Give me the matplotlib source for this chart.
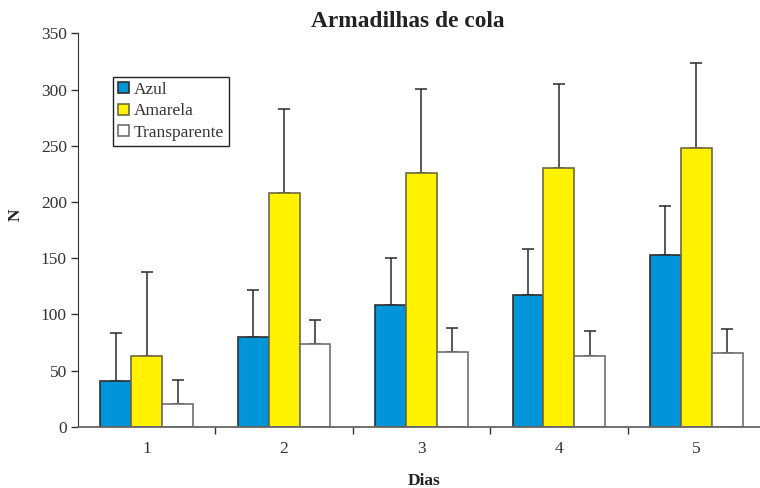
import matplotlib.pyplot as plt
import numpy as np

# Captures por dia nas armadilhas de cola (média e desvio)
dias = ["1", "2", "3", "4", "5"]
azul = [41, 80, 108, 117, 153]
azul_dp = [42.5, 42, 42, 41, 43]
amarela = [63, 208, 225.5, 230, 248]
amarela_dp = [75, 75, 75, 75, 76]
transparente = [20.5, 74, 66.5, 63, 65.5]
transparente_dp = [21.5, 21, 21.5, 22, 21.5]

plt.rcParams["font.family"] = ["Liberation Serif", "DejaVu Serif"]

fig = plt.figure(figsize=(7.6, 4.88), dpi=100)
ax = fig.add_axes([0.1026, 0.1256, 0.904, 0.806])

x = np.arange(len(dias))
w = 0.225
series = [
    ("Azul", azul, azul_dp, "#0095d9", "#303030"),
    ("Amarela", amarela, amarela_dp, "#fff200", "#6e6a40"),
    ("Transparente", transparente, transparente_dp, "white", "#707070"),
]
for i, (nome, vals, dp, cor, borda) in enumerate(series):
    pos = x + (i - 1) * w
    ax.bar(pos, vals, width=w, color=cor, edgecolor=borda, linewidth=1.2,
           label=nome, zorder=2)
    ax.errorbar(pos, vals, yerr=[np.zeros(len(dp)), dp], fmt="none",
                ecolor="#2a2a2a", elinewidth=1.1, capsize=4, capthick=1.1,
                zorder=1)

ax.set_xlim(-0.5, 4.5)
ax.set_ylim(0, 350)
ax.set_yticks(range(0, 351, 50))
ax.set_xticks(x)
ax.set_xticklabels(dias)
ax.set_xticks(np.arange(0.5, 4.5, 1), minor=True)
ax.tick_params(axis="x", which="major", length=0, pad=10, labelsize=12.5,
               colors="#333333")
ax.tick_params(axis="x", which="minor", length=5, width=1, color="#333333")
ax.tick_params(axis="y", length=5, width=1, labelsize=12.5, colors="#333333",
               pad=3)
for s in ["top", "right"]:
    ax.spines[s].set_visible(False)
ax.spines["left"].set_color("#333333")
ax.spines["bottom"].set_color("#666666")
ax.spines["bottom"].set_linewidth(1.3)

fig.text(0.537, 0.956, "Armadilhas de cola", ha="center", va="center",
         fontsize=16.8, fontweight="bold", color="#222222")
fig.text(0.558, 0.014, "Dias", ha="center", va="center", fontsize=12.5,
         fontweight="bold", color="#222222")
fig.text(0.021, 0.56, "N", ha="center", va="center", rotation=90,
         fontsize=12.5, fontweight="bold", color="#222222")

leg = ax.legend(loc="upper left", bbox_to_anchor=(0.051, 0.89),
                borderaxespad=0, fontsize=12.5, handlelength=0.6,
                handleheight=0.6, handletextpad=0.3, labelspacing=0.32,
                borderpad=0.3, fancybox=False, framealpha=1)
leg.get_frame().set_edgecolor("#222222")
leg.get_frame().set_linewidth(1)
for t in leg.get_texts():
    t.set_color("#333333")

fig.savefig("out.png", dpi=100)
